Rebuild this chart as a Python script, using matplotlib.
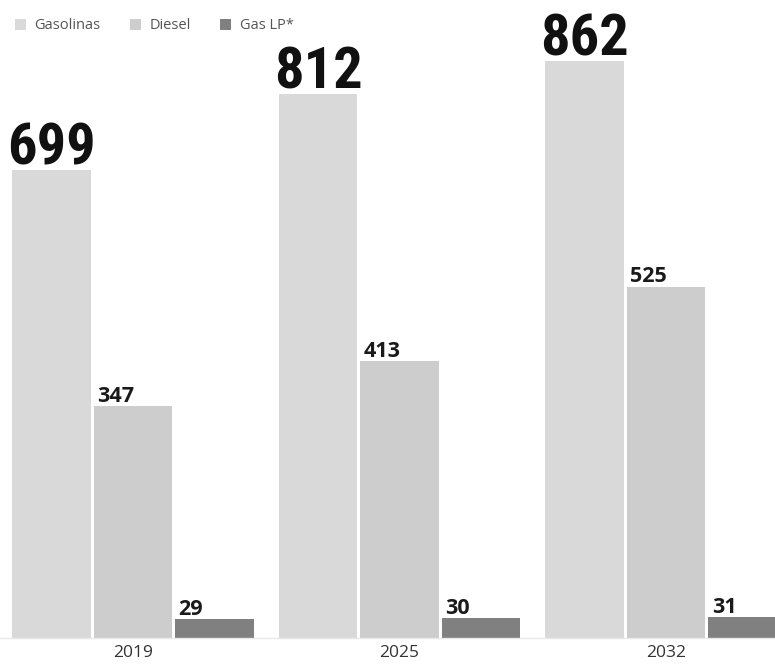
import numpy as np
from matplotlib import pyplot as plt

years = ['2019', '2025', '2032']
series = ['Gasolinas', 'Diesel', 'Gas LP*']
gasolinas = [699, 812, 862]
diesel = [347, 413, 525]
gas_lp = [29, 30, 31]
colores = ['#d9d9d9', '#cdcdcd', '#808080']

plt.rcParams['font.family'] = ['DejaVu Sans']

fig = plt.figure(figsize=(7.75, 6.65), dpi=100)
ax = fig.add_axes([0, 0, 1, 1])

grupo = np.arange(len(years)) * 3.27
valores = [gasolinas, diesel, gas_lp]
for j, vals in enumerate(valores):
    ax.bar(grupo + (j - 1), vals, width=0.965, color=colores[j], label=series[j])

# etiquetas grandes para gasolinas (fuente condensada)
for x, v in zip(grupo - 1, gasolinas):
    ax.text(x, v + 8, str(v), ha='center', va='baseline', fontsize=42,
            fontweight='bold', fontstretch='condensed', color='#111111',
            family=['Roboto Condensed', 'DejaVu Sans'])

# etiquetas chicas para diesel y gas LP
for j in (1, 2):
    for x, v in zip(grupo + (j - 1), valores[j]):
        ax.text(x - 0.44, v + 6, str(v), ha='left', va='baseline', fontsize=15.5,
                fontweight='bold', color='#1a1a1a', family=['Open Sans', 'DejaVu Sans'])

for x, y in zip(grupo, years):
    ax.text(x, -22, y, ha='center', va='center', fontsize=12.5, color='#333333',
            family=['Open Sans', 'DejaVu Sans'])

ax.axhline(0, color='#e8e8e8', lw=1)

leg = ax.legend(ncol=3, frameon=False, loc='upper left', bbox_to_anchor=(0.002, 0.992),
                handlelength=0.75, handleheight=0.75, handletextpad=0.6,
                columnspacing=2.0, prop={'family': ['Open Sans', 'DejaVu Sans'], 'size': 10.5})
for t in leg.get_texts():
    t.set_color('#555555')

ax.set_xlim(-1.632, 7.877)
ax.set_ylim(-40.3, 952.9)
ax.axis('off')

fig.savefig('out.png', dpi=100)
